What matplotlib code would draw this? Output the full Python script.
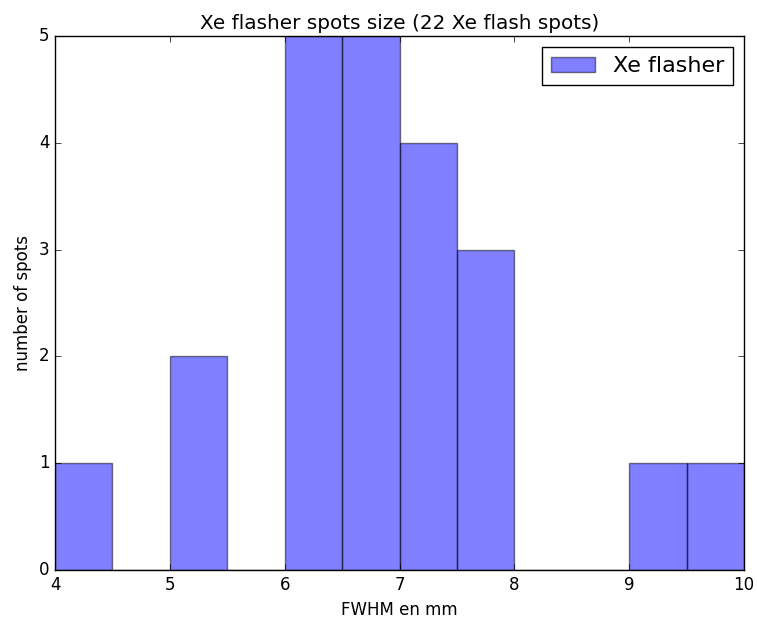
import numpy as np
import matplotlib
matplotlib.use('Agg')
import matplotlib.pyplot as plt

plt.style.use('classic')

# histogram bins (FWHM in mm) and counts per bin
bin_edges = [4.0, 4.5, 5.0, 5.5, 6.0, 6.5, 7.0, 7.5, 8.0, 8.5, 9.0, 9.5, 10.0]
counts = [1, 0, 2, 0, 5, 5, 4, 3, 0, 0, 1, 1]

fig = plt.figure(figsize=(7.57, 6.22), dpi=100, facecolor='white')
ax = fig.add_axes([0.0727, 0.0836, 0.9103, 0.8584])

centers = [(a + b) / 2 for a, b in zip(bin_edges[:-1], bin_edges[1:])]
ax.hist(centers, bins=bin_edges, weights=counts, color='blue', alpha=0.5,
        label='Xe flasher')

ax.set_xlim(4, 10)
ax.set_ylim(0, 5)
ax.set_title('Xe flasher spots size (22 Xe flash spots)')
ax.set_xlabel('FWHM en mm')
ax.set_ylabel('number of spots')
ax.legend(loc='upper right', fontsize=16)

fig.savefig('out.png', dpi=100, facecolor='white')
